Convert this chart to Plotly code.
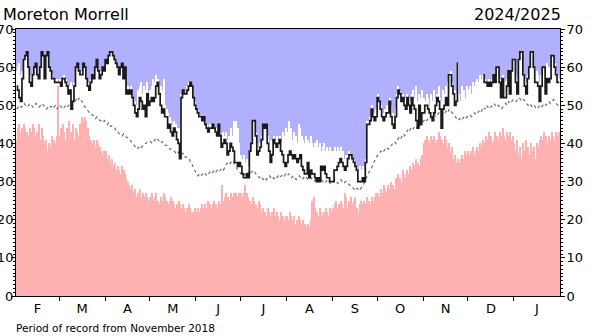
import pandas as pd
import plotly.graph_objects as go

# Daily values, 1 Feb 2024 - 31 Jan 2025 (one row per month)
record_high = (
    [59, 60, 61, 58, 59, 62, 63, 64, 60, 58, 58, 58, 60, 61, 58, 58, 60, 64, 63, 58, 63, 64, 60, 59, 58, 57, 57, 57, 56]
    + [57, 56, 57, 58, 57, 56, 55, 55, 56, 55, 56, 60, 61, 59, 58, 59, 61, 60, 58, 56, 55, 57, 58, 58, 60, 62, 59, 58, 59, 60, 60]
    + [62, 62, 63, 64, 64, 63, 62, 61, 60, 59, 60, 61, 58, 60, 54, 55, 54, 55, 53, 52, 51, 50, 54, 55, 56, 53, 55, 54, 56, 53]
    + [54, 55, 57, 56, 58, 57, 56, 55, 54, 57, 50, 49, 48, 47, 46, 45, 46, 45, 44, 44, 43, 53, 54, 54, 53, 55, 56, 56, 55, 53, 51]
    + [50, 49, 48, 47, 47, 47, 46, 45, 44, 45, 45, 45, 44, 44, 43, 45, 43, 42, 43, 42, 43, 41, 42, 44, 42, 46, 45, 46, 44, 40]
    + [37, 36, 37, 35, 36, 34, 38, 40, 46, 46, 43, 40, 39, 40, 42, 45, 44, 45, 42, 40, 41, 40, 42, 41, 42, 41, 42, 40, 43, 42, 44]
    + [43, 46, 42, 44, 41, 43, 42, 40, 45, 44, 42, 41, 40, 42, 41, 40, 42, 40, 39, 40, 41, 39, 40, 38, 39, 40, 38, 39, 38, 39, 38]
    + [38, 39, 38, 39, 38, 39, 37, 38, 36, 37, 37, 38, 37, 37, 36, 35, 34, 33, 34, 33, 34, 33, 36, 46, 46, 47, 50, 48, 48, 49]
    + [53, 52, 50, 49, 48, 49, 50, 49, 52, 50, 48, 47, 49, 53, 55, 54, 53, 53, 52, 52, 53, 52, 51, 53, 54, 52, 55, 51, 53, 52, 54]
    + [52, 51, 53, 52, 50, 53, 51, 54, 52, 53, 55, 52, 51, 54, 53, 55, 56, 58, 59, 56, 55, 54, 53, 61, 53, 51, 55, 54, 52, 55]
    + [54, 55, 53, 56, 55, 56, 57, 56, 58, 57, 58, 57, 56, 56, 57, 56, 57, 58, 57, 60, 60, 57, 56, 58, 57, 56, 57, 59, 58, 59, 62]
    + [62, 58, 57, 62, 64, 64, 59, 57, 56, 58, 60, 64, 64, 60, 60, 59, 58, 56, 58, 60, 60, 57, 61, 60, 60, 63, 63, 61, 59, 58, 57]
)

record_low = (
    [41, 44, 45, 43, 44, 45, 44, 43, 42, 44, 43, 45, 44, 42, 43, 45, 41, 44, 42, 40, 41, 38, 40, 39, 42, 41, 40, 42, 55]
    + [42, 44, 45, 43, 41, 44, 46, 42, 43, 45, 41, 44, 43, 42, 45, 47, 46, 47, 46, 44, 42, 41, 40, 41, 39, 41, 40, 39, 38, 37, 38]
    + [38, 36, 37, 35, 36, 34, 35, 33, 34, 33, 32, 34, 33, 32, 31, 30, 29, 28, 29, 27, 28, 26, 27, 28, 26, 27, 26, 27, 26, 25]
    + [26, 27, 25, 26, 27, 25, 24, 26, 25, 27, 26, 25, 24, 25, 26, 25, 24, 23, 24, 25, 24, 23, 24, 23, 22, 23, 24, 23, 22, 22, 23]
    + [22, 23, 22, 23, 24, 23, 24, 23, 25, 24, 23, 24, 25, 24, 23, 25, 24, 29, 25, 26, 27, 26, 25, 27, 26, 27, 26, 27, 26, 27]
    + [27, 26, 27, 29, 27, 26, 25, 24, 26, 25, 24, 23, 25, 24, 22, 23, 22, 21, 23, 22, 21, 22, 23, 21, 22, 21, 20, 22, 21, 20, 21]
    + [21, 20, 22, 21, 20, 21, 19, 20, 21, 20, 19, 20, 19, 18, 19, 18, 20, 25, 26, 23, 22, 21, 23, 22, 21, 22, 23, 22, 21, 23, 22]
    + [23, 24, 25, 23, 24, 25, 24, 23, 27, 26, 23, 25, 26, 24, 25, 26, 23, 22, 24, 25, 24, 25, 24, 26, 25, 24, 26, 25, 26, 27]
    + [27, 26, 28, 27, 29, 28, 27, 29, 28, 30, 29, 28, 31, 30, 32, 31, 30, 33, 32, 31, 33, 32, 34, 33, 35, 34, 36, 35, 34, 36, 37]
    + [40, 41, 42, 41, 40, 42, 41, 42, 40, 41, 43, 42, 41, 40, 42, 41, 39, 40, 38, 39, 36, 37, 35, 36, 35, 36, 37, 36, 38, 37]
    + [38, 37, 38, 39, 37, 38, 39, 38, 40, 39, 41, 40, 42, 41, 43, 42, 40, 41, 43, 42, 41, 43, 42, 44, 42, 41, 43, 42, 43, 41, 42]
    + [40, 38, 41, 37, 39, 36, 40, 38, 41, 39, 37, 40, 38, 39, 36, 40, 39, 41, 42, 41, 43, 42, 40, 42, 41, 43, 42, 41, 43, 42, 43]
)

daily_mean = (
    [49, 49.5, 50, 49.5, 50, 50.5, 50, 49.5, 50, 50.5, 50, 49.5, 50, 50.5, 50, 49.5, 50, 50.5, 50, 49.5, 49, 49.5, 50, 49.5, 50, 49.5, 50, 49, 49.5]
    + [50, 49.5, 49, 49.5, 50, 49.5, 50, 50.5, 50, 50.5, 51, 51.5, 51, 52, 51.5, 51, 50, 49.5, 49, 48.5, 48, 47.5, 47.5, 47, 46.5, 47, 46.5, 46, 46, 45.5, 46]
    + [45.5, 45, 45.5, 44.5, 44.5, 44, 44, 43, 43, 42.5, 42.5, 42, 42.5, 42, 41.5, 41.5, 41, 40.5, 40, 39.5, 39, 38.5, 39, 38.5, 39, 39.5, 40, 40, 40.5, 40.5]
    + [40.5, 40, 40.5, 41, 40.5, 41, 40.5, 40, 40.5, 40, 39.5, 39.5, 39, 38.5, 38.5, 38, 38, 37.5, 38, 37.5, 37, 37, 37.5, 36.5, 36.5, 36, 36, 35, 34.5, 33.5, 32.5]
    + [32, 31.5, 32, 31.5, 32, 31.5, 32, 31.5, 32, 32.5, 32, 32.5, 33, 32.5, 33, 32.5, 33, 33.5, 33, 34, 34.5, 35, 34.5, 35, 35.5, 35, 34, 33.5, 33, 32.5]
    + [32, 32.5, 32, 31.5, 32, 32.5, 32, 32.5, 33, 32.5, 32, 31.5, 31, 31.5, 31, 30.5, 31, 30.5, 31, 31.5, 31, 30.5, 31, 30.5, 31, 31.5, 31, 31.5, 32, 31.5, 32]
    + [31.5, 32, 31.5, 31, 31.5, 31, 30.5, 31, 31.5, 31, 30.5, 31, 31.5, 31, 30.5, 31, 31, 30.5, 30, 30.5, 31, 30.5, 30, 30.5, 30, 29.5, 30, 30.5, 30, 29.5, 30]
    + [30, 30.5, 30, 29.5, 30, 30.5, 30, 29.5, 30, 30, 29.5, 29, 29, 28.5, 28, 28.5, 28, 28.5, 28, 28.5, 29, 30, 31, 32, 32.5, 33, 34, 35, 36, 36.5]
    + [37, 37.5, 38, 37.5, 38, 38.5, 39, 38.5, 39, 39.5, 40, 40.5, 40, 41, 41.5, 41, 42, 42.5, 42, 43, 43.5, 43, 44, 43.5, 44, 44.5, 44, 45, 44.5, 45, 45.5]
    + [46, 46.5, 46, 46.5, 47, 46.5, 47, 47.5, 47, 47.5, 48, 47.5, 48, 47.5, 48, 48.5, 48, 49, 48.5, 48, 47.5, 47, 46.5, 46, 46.5, 46, 46.5, 47, 46.5, 47]
    + [47, 47.5, 47, 47.5, 48, 47.5, 48, 48.5, 48, 49, 49.5, 49, 50, 49.5, 50, 49.5, 50, 50.5, 50, 49.5, 50, 49.5, 49, 49.5, 50, 50.5, 50, 51, 50.5, 51, 51.5]
    + [51.5, 51, 51.5, 52, 51.5, 51, 51.5, 51, 50.5, 50, 50.5, 50, 49.5, 50, 49.5, 49, 49.5, 50, 49.5, 50, 50.5, 50, 50.5, 51, 50.5, 51, 51.5, 51, 50.5, 50, 50.5]
)

N = None
this_year = (
    [55, 54, 52, 51, 57, 62, 63, 64, 60, 56, 55, 58, 60, 61, 58, 57, 60, 64, 63, 57, 63, 64, 60, 59, 57, 57, 56, 56, 56]
    + [56, 55, 57, 57, 56, 55, 53, 54, 49, 51, 55, 60, 61, 59, 58, 58, 61, 60, 57, 55, 54, 56, 58, 57, 60, 62, 59, 57, 58, 60, 59]
    + [62, 61, 63, 64, 64, 63, 62, 61, 60, 58, 60, 61, 57, 60, 53, 54, 53, 54, 52, 50, 48, 47, 49, 52, 51, 49, 50, 47, 53, 50]
    + [51, 52, 51, 52, 55, 56, 53, 50, 48, 49, 47, 47, 44, 45, 43, 42, 44, 43, 41, 40, 36, 52, 54, 53, 53, 54, 55, 56, 55, 52, 50]
    + [49, 48, 47, 47, 46, 47, 45, 44, 43, 44, 44, 45, 44, 43, 42, 45, 42, 39, 40, 41, 40, 37, 38, 40, 39, 38, 35, 35, 34, 35]
    + [34, 32, 31, 31, 32, 31, 38, 40, 46, 46, 42, 37, 38, 39, 41, 45, 44, 45, 40, 38, 35, 37, 41, 40, 39, 40, 41, 38, 37, 35, 34]
    + [35, 37, 38, 37, 36, 37, 36, 35, 36, 37, 34, 33, 32, 32, 35, 31, 33, 32, 32, 31, 30, 31, 30, 34, 33, 34, 32, 31, 31, 30, 30]
    + [30, 33, 33, 34, 35, 36, 35, 34, 33, 34, 36, 37, 37, 36, 35, 34, 33, 30, 30, 30, 31, 30, 35, 45, 45, 46, 49, 47, 46, 47]
    + [52, 51, 49, 47, 46, 47, 48, 48, 51, 47, 45, 44, 47, 52, 54, 53, 51, 52, 50, 49, 52, 50, 48, 52, 50, 49, 46, 44, 50, 45, 48]
    + [48, 50, 50, 49, 48, 47, 46, 48, 50, 52, 51, 49, 44, 49, 50, 52, 50, 58, 58, 55, 53, 50, 51, 61, N, N, N, N, N, N]
    + [N, N, N, N, N, N, N, N, N, N, 58, 56, 56, 55, 56, 55, 56, 58, 56, 60, 60, 56, 52, 57, 52, 52, 55, 59, 53, 59, 62]
    + [62, 56, 53, 62, 64, 64, 58, 55, 53, 57, 60, 64, 64, 60, 56, 56, 55, 51, 55, 60, 60, 53, 57, 56, 57, 63, 63, 60, 58, 56, 56]
)

month_letters = ["F", "M", "A", "M", "J", "J", "A", "S", "O", "N", "D", "J"]

days = pd.date_range("2024-02-01", "2025-01-31", freq="D")
month_starts = pd.date_range("2024-02-01", "2025-02-01", freq="MS")
month_mids = [a + (b - a) / 2 for a, b in zip(month_starts[:-1], month_starts[1:])]
x_range = [month_starts[0], month_starts[-1]]

FONT = "DejaVu Sans"
DAY_MS = 86400000

fig = go.Figure()
fig.add_trace(go.Bar(
    x=days, y=record_high, xperiod=DAY_MS, xperiodalignment="middle",
    marker=dict(color="#ffffff", line=dict(width=0)), hoverinfo="skip",
))
fig.add_trace(go.Bar(
    x=days, y=record_low, xperiod=DAY_MS, xperiodalignment="middle",
    marker=dict(color="#ffb0b0", line=dict(width=0)), hoverinfo="skip",
))
fig.add_trace(go.Scatter(
    x=days, y=daily_mean, xperiod=DAY_MS, xperiodalignment="middle",
    mode="lines", line=dict(color="#777777", width=1.3, dash="3px,3px"),
))
fig.add_trace(go.Scatter(
    x=days, y=this_year, xperiod=DAY_MS, xperiodalignment="middle",
    mode="lines", line=dict(color="#1a1a1a", width=1.7, shape="hvh"),
    connectgaps=False, xaxis="x2", yaxis="y2",
))

y_common = dict(
    range=[0, 70], tickvals=list(range(0, 71, 10)), ticks="outside", ticklen=4,
    tickcolor="black", tickwidth=1, showgrid=False, zeroline=False,
    showline=True, linecolor="black", linewidth=1, automargin=False,
    tickfont=dict(family=FONT, size=13, color="black"),
    minor=dict(dtick=1, ticks="outside", ticklen=2, tickcolor="black", tickwidth=1, showgrid=False),
)

fig.update_layout(
    width=592, height=336,
    margin=dict(l=16, r=32, t=29, b=40, autoexpand=False),
    paper_bgcolor="white", plot_bgcolor="#b0b0ff",
    barmode="overlay", bargap=0, showlegend=False,
    font=dict(family=FONT, color="black"),
    xaxis=dict(
        type="date", range=x_range, tickvals=list(month_starts[1:-1]),
        ticks="outside", ticklen=4, tickcolor="black", showticklabels=False,
        showline=True, linecolor="black", linewidth=1, mirror=True,
        showgrid=False, zeroline=False, automargin=False,
    ),
    xaxis2=dict(
        type="date", range=x_range, overlaying="x", anchor="y", side="bottom",
        tickvals=month_mids, ticktext=month_letters, ticks="",
        ticklabelstandoff=3, automargin=False,
        tickfont=dict(family=FONT, size=13, color="black"),
        showline=False, showgrid=False, zeroline=False,
    ),
    yaxis=dict(**y_common, side="left", mirror=False, ticklabelstandoff=-5),
    yaxis2=dict(**y_common, side="right", overlaying="y", anchor="x", ticklabelstandoff=-1),
    annotations=[
        dict(text="Moreton Morrell", xref="paper", yref="paper", x=-0.028, y=1.054,
             xanchor="left", yanchor="middle", showarrow=False,
             font=dict(family=FONT, size=16, color="black")),
        dict(text="2024/2025", xref="paper", yref="paper", x=1.006, y=1.054,
             xanchor="right", yanchor="middle", showarrow=False,
             font=dict(family=FONT, size=16, color="black")),
        dict(text="Period of record from November 2018", xref="paper", yref="paper",
             x=-0.004, y=-0.119, xanchor="left", yanchor="middle", showarrow=False,
             font=dict(family=FONT, size=10.5, color="black")),
    ],
)

fig.write_html("out.html")
